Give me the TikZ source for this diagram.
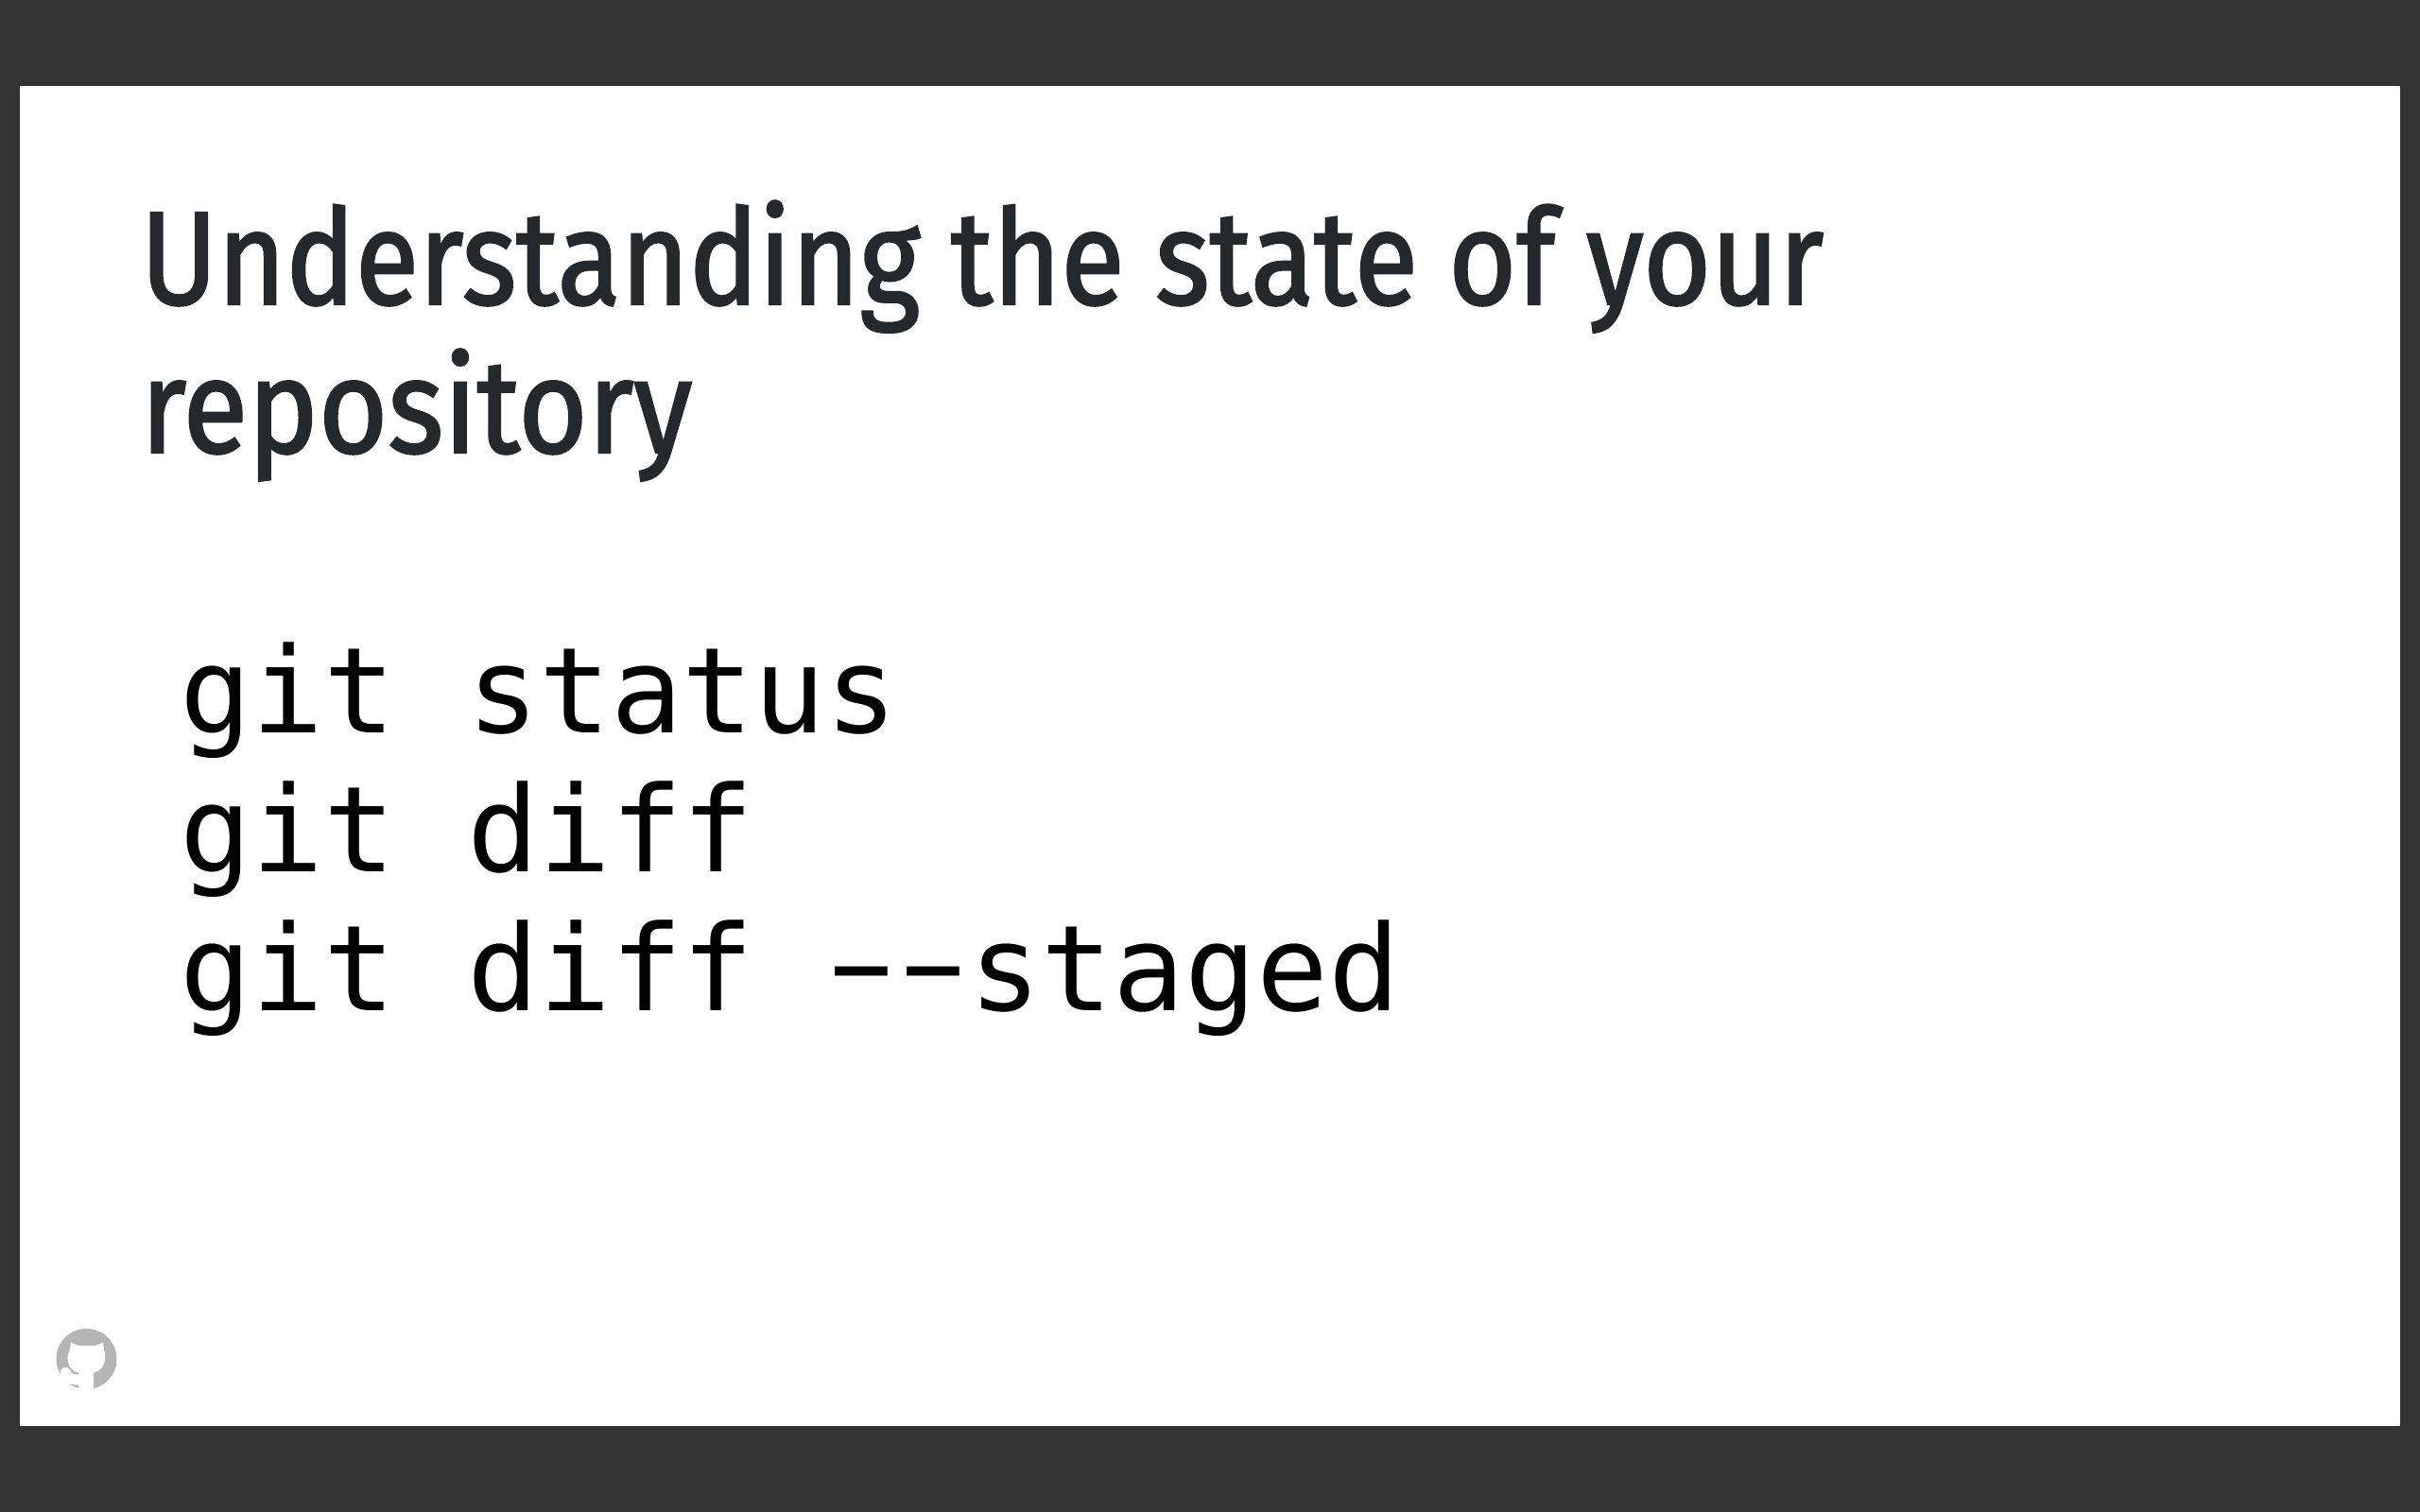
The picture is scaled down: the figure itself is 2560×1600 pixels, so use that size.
\documentclass[tikz,border=0pt]{standalone}
\usepackage{fontspec}
\newfontfamily\titlefont[FakeStretch=0.875,FakeBold=1.6]{Fira Sans}
\newfontfamily\titlewide[FakeStretch=0.895,FakeBold=1.6]{Fira Sans}
\newfontfamily\codefont{DejaVu Sans Mono}
\newfontfamily\dashfont{Liberation Sans}
\definecolor{slidegray}{HTML}{333333}
\definecolor{titleink}{HTML}{24292E}
\definecolor{logogray}{HTML}{B5B5B5}
\newcommand{\longdash}{\raisebox{0.06em}{\dashfont\scalebox{1.807}[1]{-}}}
\tikzset{
  titleline/.style={anchor=base west, inner sep=0pt, text=titleink, font=\titlefont\fontsize{40}{50}\selectfont},
  codeline/.style={anchor=base west, inner sep=0pt, text=black, font=\codefont\fontsize{35.85}{42}\selectfont},
}

\begin{document}
\begin{tikzpicture}[x=0.01cm, y=-0.01cm]
  \useasboundingbox (0,0) rectangle (2560,1600);
  \fill[slidegray] (0,0) rectangle (2560,1600);
  \fill[white] (21,91) rectangle (2539,1509);
  % heading
  \node[titleline] (titleone) at (148,322) {Understanding the state of your};
  \node[titleline, font=\titlewide\fontsize{40}{50}\selectfont] (titletwo) at (148,479) {repository};
  % commands
  \node[codeline] (status) at (190,775) {git status};
  \node[codeline] (diff) at (190,922) {git diff};
  \node[codeline] (staged) at (190,1069) {git diff \longdash\longdash staged};
  % logo
  \fill[logogray] (91.5,1438) circle (32);
  \fill[white] (83.3,1471) -- (83.3,1452.7) .. controls (76,1451) and (71.7,1446) .. (71.7,1436.7)
    .. controls (71.7,1432) and (73,1430) .. (74,1428) -- (75,1420.7) -- (83.3,1424)
    -- (100.7,1424) -- (109,1420.7) -- (110,1428) .. controls (111,1430) and (111,1432) .. (111,1436.7)
    .. controls (111,1446) and (106,1451) .. (99,1452.7) -- (99,1471) -- cycle;
  \draw[white, line width=3.2, line cap=round] (69.3,1452.3) .. controls (72,1460) and (76,1459.5) .. (83.3,1460);
\end{tikzpicture}
\end{document}
